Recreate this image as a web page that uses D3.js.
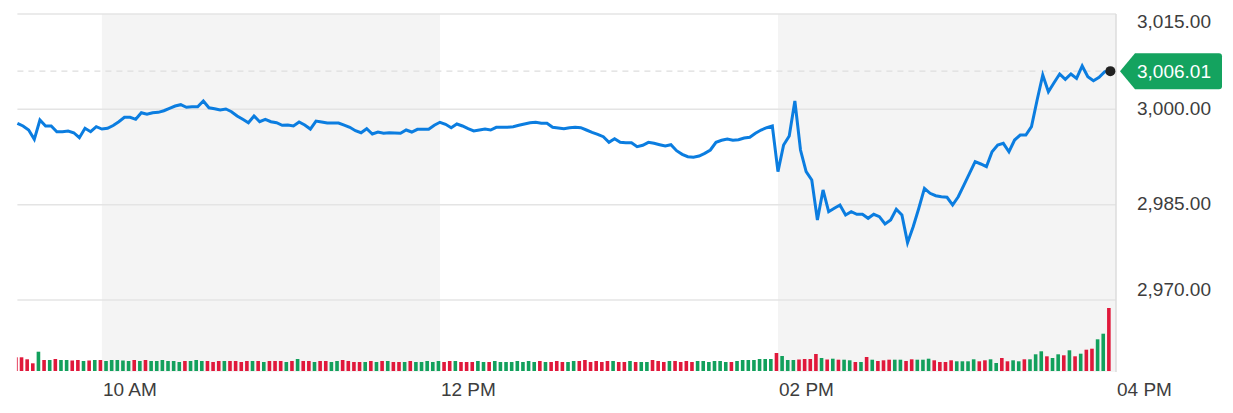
<!DOCTYPE html>
<html><head><meta charset="utf-8">
<script src="https://cdn.jsdelivr.net/npm/d3@7"></script>
<style>
html,body{margin:0;padding:0;background:#fff;}
svg{display:block;font-family:"Liberation Sans",Arial,sans-serif;}
</style></head><body>
<svg id="chart" width="1233" height="413"></svg>
<script>
// ---- data ----
const sessionStart = "09:30";
const sessionEnd = "16:00";
const stepMinutes = 2;
const closes = [
2997.80,2997.38,2996.75,2995.28,2998.32,2997.38,2997.38,2996.48,2996.48,2996.59,
2996.32,2995.54,2997.01,2996.48,2997.27,2996.90,2997.01,2997.45,2998.05,2998.74,
2998.74,2998.43,2999.47,2999.22,2999.47,2999.53,2999.78,3000.16,3000.52,3000.73,
3000.32,3000.41,3000.41,3001.31,3000.25,3000.10,2999.89,3000.05,2999.63,2998.95,
2998.43,2997.89,2998.95,2998.05,2998.43,2998.05,2997.89,2997.49,2997.53,2997.38,
2998.01,2997.53,2996.90,2998.16,2998.01,2997.85,2997.85,2997.85,2997.53,2997.17,
2996.64,2996.32,2996.95,2996.12,2996.43,2996.23,2996.32,2996.27,2996.23,2996.75,
2996.43,2996.86,2996.86,2996.86,2997.49,2997.96,2997.64,2997.11,2997.69,2997.38,
2996.95,2996.59,2996.75,2996.90,2996.75,2997.17,2997.17,2997.17,2997.27,2997.49,
2997.69,2997.89,2997.96,2997.80,2997.80,2997.17,2997.06,2996.95,2997.11,2997.17,
2997.11,2996.75,2996.38,2996.07,2995.69,2994.81,2995.38,2994.81,2994.75,2994.75,
2994.12,2994.34,2994.81,2994.65,2994.43,2994.23,2994.43,2993.49,2992.92,2992.55,
2992.45,2992.66,2993.08,2993.60,2994.81,2995.13,2995.33,2995.13,2995.22,2995.49,
2995.60,2996.23,2996.75,2997.11,2997.38,2990.19,2994.39,2995.80,3001.31,2993.60,
2990.19,2988.88,2982.59,2987.31,2983.89,2984.43,2984.95,2983.37,2983.89,2983.48,
2983.48,2982.85,2983.48,2983.11,2981.96,2982.59,2984.27,2983.37,2979.02,2981.53,
2984.43,2987.57,2986.79,2986.41,2986.25,2986.16,2984.95,2986.25,2988.09,2989.93,
2991.76,2991.40,2990.97,2993.33,2994.39,2994.65,2993.33,2995.17,2995.96,2995.96,
2997.27,3001.47,3005.40,3002.77,3004.19,3005.56,3004.72,3005.56,3004.88,3006.82,
3005.13,3004.50,3005.04,3005.92,3006.01
];
const volumes = [
13.7,13.7,11.7,7.7,19.3,11,11,12,11,11,10.5,11,10,10.5,11,11,10,11,11,10.5,
10,11,10,11,10,10,11,10,10,9,10,10,11,10,10,9,10,10,10,10,
9,10,10,10,9,10,10,10,9,10,12,10,10,9,10,10,9,10,11,10,
9,9,9,10,9,10,10,9,9,9,10,9,9,10,9,10,9,10,10,9,
9,9,10,9,9,10,9,9,9,10,9,10,9,10,9,9,10,9,9,10,
10,11,9,10,9,10,10,9,9,10,9,9,9,11,10,9,10,10,9,10,
9,10,10,9,10,10,9,9,10,11,11,11,12,12,12,
18,15,11,11,11.5,12,12,17,13,11.5,
12.3,11.3,11.3,10.7,9,9,14,11.3,10,10.7,11.3,11.3,11.3,10,11.7,11.3,11.3,12.3,10.7,9,
9,10.7,9.7,9.7,9.7,11.7,9.7,10.7,11.7,8,13,9.7,10.7,9.7,11.7,11.7,16.7,19.7,14.7,13,
16.7,15.7,20.7,14.7,17.3,21.3,22.3,31.7,37.3,63
];
// bar direction per interval: g = up (green), r = down (red)
const volumeDirection = [
  "rrrrgrgrggrrgrgrgggg",
  "grgrggggggrgggrrrgrr",
  "rrgrgrrrgrgrrgrrggrr",
  "rrgrgrgrrgrgggggrrgr",
  "rrggrggggggggrgrrrgg",
  "rrrrrrgrrgrggrrrgrrr",
  "rggggggrgggggggrgggrrrrgr",
  "grggrgrgrrrggrrgggrr",
  "rrggggrrggrrggrgggrg",
  "grgrgrrggr"
].join("").split("");
const priceTicks = [3015, 3000, 2985, 2970];
const timeTicks = ["10:00", "12:00", "14:00", "16:00"];
const timeTickLabels = ["10 AM", "12 PM", "02 PM", "04 PM"];
const shadedPeriods = [["10:00", "12:00"], ["14:00", "16:00"]];
const lastPrice = 3006.01;

// ---- layout ----
const plot = {left: 17.4, right: 1116, top: 14, bottom: 372};
const parse = s => { const [h, m] = s.split(":").map(Number); return new Date(2020, 0, 2, h, m); };
const times = closes.map((_, i) => new Date(parse(sessionStart).getTime() + i * stepMinutes * 60000));

const svg = d3.select("#chart");
const x = d3.scaleTime().domain([parse(sessionStart), parse(sessionEnd)]).range([plot.left, plot.right]);
const y = d3.scaleLinear().domain([2970, 3015]).range([300, plot.top]);
const yv = d3.scaleLinear().domain([0, 70]).range([371, 301]);

// shaded bands
svg.append("g").selectAll("rect").data(shadedPeriods).join("rect")
  .attr("x", d => x(parse(d[0]))).attr("y", plot.top)
  .attr("width", d => x(parse(d[1])) - x(parse(d[0])))
  .attr("height", plot.bottom - plot.top)
  .attr("fill", "#f4f4f4");

// grid lines
svg.append("g").selectAll("line").data(priceTicks).join("line")
  .attr("x1", plot.left).attr("x2", plot.right)
  .attr("y1", d => y(d)).attr("y2", d => y(d))
  .attr("stroke", "#e4e4e4").attr("stroke-width", 1.5);

// right border
svg.append("line").attr("x1", plot.right).attr("x2", plot.right)
  .attr("y1", plot.top).attr("y2", plot.bottom)
  .attr("stroke", "#dcdcdc").attr("stroke-width", 1.5);

// clip
svg.append("clipPath").attr("id", "clip").append("rect")
  .attr("x", plot.left - 0.5).attr("y", plot.top).attr("width", plot.right - plot.left).attr("height", plot.bottom - plot.top);

// volume bars
const barW = 3.6;
svg.append("g").attr("clip-path", "url(#clip)").selectAll("rect").data(volumes).join("rect")
  .attr("x", (d, i) => x(times[i]) - 1.5 - barW / 2)
  .attr("y", d => yv(d))
  .attr("width", barW)
  .attr("height", d => yv(0) - yv(d))
  .attr("fill", (d, i) => volumeDirection[i] === "g" ? "#12a05c" : "#e0183b");

// last price dashed line
svg.append("line")
  .attr("x1", plot.left).attr("x2", x(times[times.length - 1]))
  .attr("y1", y(lastPrice)).attr("y2", y(lastPrice))
  .attr("stroke", "#dddddd").attr("stroke-width", 1.2).attr("stroke-dasharray", "6,5");

// price line
const line = d3.line().x((d, i) => x(times[i])).y(d => y(d));
svg.append("path").datum(closes).attr("d", line)
  .attr("fill", "none").attr("stroke", "#0b7de0").attr("stroke-width", 3)
  .attr("stroke-linejoin", "miter");

// last dot
svg.append("circle").attr("cx", x(times[times.length - 1])).attr("cy", y(lastPrice))
  .attr("r", 5).attr("fill", "#222");

// y labels
svg.append("g").selectAll("text").data(priceTicks).join("text")
  .attr("x", 1137)
  .attr("y", d => Math.min(296, Math.max(28, y(d) + 5.5)))
  .attr("font-size", 19).attr("fill", "#3d3d3d")
  .text(d => d3.format(",.2f")(d));

// x labels
svg.append("g").selectAll("text").data(timeTicks).join("text")
  .attr("x", d => x(parse(d)) + 1)
  .attr("y", 395.5)
  .attr("font-size", 19).attr("fill", "#3d3d3d")
  .text((d, i) => timeTickLabels[i]);

// price tag
const ty = y(lastPrice);
const tag = d3.path();
tag.moveTo(1120, ty);
tag.lineTo(1135, ty - 18);
tag.lineTo(1219, ty - 18);
tag.quadraticCurveTo(1222, ty - 18, 1222, ty - 15);
tag.lineTo(1222, ty + 15);
tag.quadraticCurveTo(1222, ty + 18, 1219, ty + 18);
tag.lineTo(1135, ty + 18);
tag.closePath();
svg.append("path").attr("d", tag.toString()).attr("fill", "#14a35f");
svg.append("text").attr("x", 1137).attr("y", ty + 7)
  .attr("font-size", 19).attr("fill", "#fff").text(d3.format(",.2f")(lastPrice));
</script>
</body></html>
